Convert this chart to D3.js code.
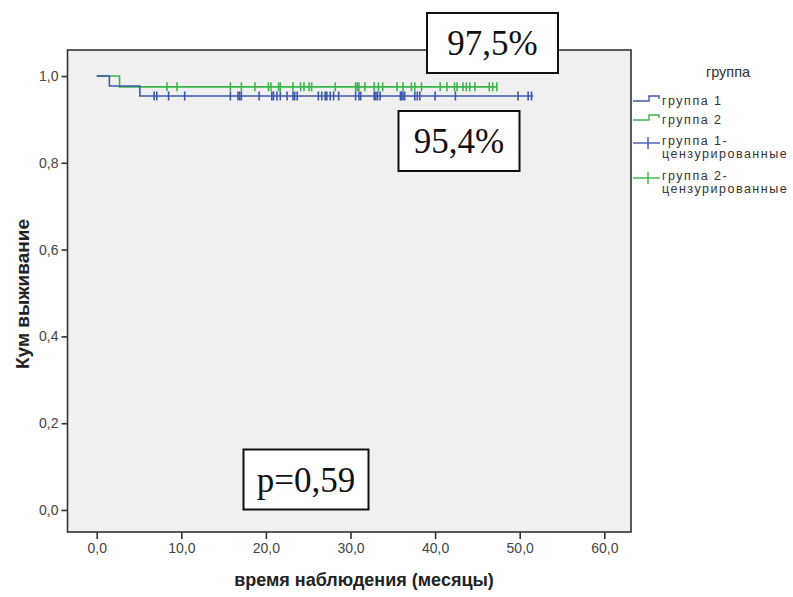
<!DOCTYPE html>
<html>
<head>
<meta charset="utf-8">
<script src="https://cdn.jsdelivr.net/npm/d3@7"></script>
<style>
  body { margin: 0; background: #fff; }
  svg { display: block; font-family: Arial, "Liberation Sans", sans-serif; }
</style>
</head>
<body>
<div id="chart"></div>
<script>
const width = 793, height = 597;

// survival steps (time in months, cumulative survival)
const group1Steps = [[0, 1.0], [1.5, 0.977], [5.1, 0.954], [51.6, 0.954]];
const group2Steps = [[0, 1.0], [2.7, 0.975], [47.3, 0.975]];

// censored observations (months)
const group1Censored = [6.8, 7.1, 8.5, 10.4, 15.8, 16.7, 16.9, 17.1, 19.2, 20.7, 20.9, 21.3, 21.7,
  22.5, 23.2, 23.4, 23.7, 26.2, 26.6, 27.0, 27.2, 27.6, 28.0, 28.6, 30.6, 31.0, 31.2, 32.8, 33.0,
  33.2, 33.5, 35.9, 36.0, 36.2, 36.4, 37.6, 37.9, 38.2, 40.0, 42.4, 49.8, 51.0, 51.4];
const group2Censored = [8.3, 9.5, 15.8, 17.1, 18.7, 20.3, 20.6, 21.5, 21.7, 23.2, 24.1, 24.5, 25.1,
  25.4, 28.2, 30.6, 30.8, 31.0, 31.7, 32.8, 33.3, 33.8, 35.5, 36.2, 37.2, 37.6, 38.4, 40.6, 41.4,
  42.3, 42.6, 43.3, 43.7, 44.1, 44.7, 46.4, 46.8, 47.3];

const xTicks = [0, 10, 20, 30, 40, 50, 60];
const yTicks = [0, 0.2, 0.4, 0.6, 0.8, 1.0];

const groupNames = ['группа 1', 'группа 2'];
const groupColors = ['#3e58ac', '#3cb54a'];

const frame = { left: 67.5, top: 50, right: 631, bottom: 532 };

let x = d3.scaleLinear().domain([0, 60]).range([96.7, 604.3]);
let y = d3.scaleLinear().domain([0, 1]).range([510, 76]);

const fmt = function(d) { return d3.format('.1f')(d).replace('.', ','); };

let svg = d3.select('#chart')
    .append('svg')
    .attr('width', width)
    .attr('height', height);

// plot area
svg.append('rect')
    .attr('x', frame.left)
    .attr('y', frame.top)
    .attr('width', frame.right - frame.left)
    .attr('height', frame.bottom - frame.top)
    .attr('fill', '#f0f0f0')
    .attr('stroke', '#333')
    .attr('stroke-width', 1.6);

// axes
let yAxis = svg.append('g')
    .attr('transform', 'translate(' + frame.left + ',0)')
    .call(d3.axisLeft(y).tickValues(yTicks).tickFormat(fmt).tickSize(6).tickPadding(3));

let xAxis = svg.append('g')
    .attr('transform', 'translate(0,' + frame.bottom + ')')
    .call(d3.axisBottom(x).tickValues(xTicks).tickFormat(fmt).tickSize(7).tickPadding(4));

[xAxis, yAxis].forEach(function(a) {
    a.select('.domain').remove();
    a.selectAll('line').attr('stroke', '#333').attr('stroke-width', 1.6);
    a.selectAll('text')
        .attr('fill', '#444')
        .style('font-size', '14px')
        .style('font-family', 'Arial, "Liberation Sans", sans-serif');
});

svg.append('text')
    .attr('x', 364)
    .attr('y', 586)
    .attr('text-anchor', 'middle')
    .style('font-size', '18px')
    .style('font-weight', 'bold')
    .attr('fill', '#222')
    .text('время наблюдения (месяцы)');

svg.append('text')
    .attr('transform', 'translate(29,294) rotate(-90)')
    .attr('text-anchor', 'middle')
    .style('font-size', '19px')
    .style('font-weight', 'bold')
    .attr('fill', '#222')
    .text('Кум выживание');

// survival curves
let line = d3.line()
    .x(function(d) { return x(d[0]); })
    .y(function(d) { return y(d[1]); })
    .curve(d3.curveStepAfter);

// survival value at a time point for censored marks
function survAt(steps, t) {
    let s = steps[0][1];
    steps.forEach(function(p) { if (p[0] <= t) { s = p[1]; } });
    return s;
}

const series = [
    { steps: group1Steps, cens: group1Censored, color: groupColors[0] },
    { steps: group2Steps, cens: group2Censored, color: groupColors[1] }
];

// draw green first so blue start sits on top like the original
[series[1], series[0]].forEach(function(s) {
    svg.append('path')
        .attr('d', line(s.steps))
        .attr('fill', 'none')
        .attr('stroke', s.color)
        .attr('stroke-width', 1.6);

    svg.append('g')
        .selectAll('line')
        .data(s.cens)
        .enter()
        .append('line')
        .attr('x1', function(d) { return x(d); })
        .attr('x2', function(d) { return x(d); })
        .attr('y1', function(d) { return y(survAt(s.steps, d)) - 4.5; })
        .attr('y2', function(d) { return y(survAt(s.steps, d)) + 4.5; })
        .attr('stroke', s.color)
        .attr('stroke-width', 1.6);
});

// legend
let legend = svg.append('g').attr('class', 'legend');

legend.append('text')
    .attr('x', 728)
    .attr('y', 77)
    .attr('text-anchor', 'middle')
    .style('font-size', '14.5px')
    .attr('fill', '#333')
    .text('группа');

const legendRows = [
    { y: 101, color: groupColors[0], kind: 'step', lines: [groupNames[0]] },
    { y: 120, color: groupColors[1], kind: 'step', lines: [groupNames[1]] },
    { y: 143, color: groupColors[0], kind: 'cens', lines: [groupNames[0] + '-', 'цензурированные'] },
    { y: 178, color: groupColors[1], kind: 'cens', lines: [groupNames[1] + '-', 'цензурированные'] }
];

const legendText = function(sel) {
    sel.style('font-size', '12.5px')
        .style('letter-spacing', '1.5px')
        .attr('fill', '#333');
};

legendRows.forEach(function(r) {
    if (r.kind === 'step') {
        legend.append('path')
            .attr('d', 'M633,' + r.y + 'H649V' + (r.y - 5) + 'H659V' + (r.y - 2))
            .attr('fill', 'none')
            .attr('stroke', r.color)
            .attr('stroke-width', 1.4);
        legend.append('text')
            .attr('x', 662)
            .attr('y', r.y + 4)
            .call(legendText)
            .text(r.lines[0]);
    } else {
        legend.append('line')
            .attr('x1', 633).attr('x2', 660)
            .attr('y1', r.y).attr('y2', r.y)
            .attr('stroke', r.color).attr('stroke-width', 1.4);
        legend.append('line')
            .attr('x1', 648).attr('x2', 648)
            .attr('y1', r.y - 6).attr('y2', r.y + 6)
            .attr('stroke', r.color).attr('stroke-width', 1.4);
        r.lines.forEach(function(t, i) {
            legend.append('text')
                .attr('x', 662)
                .attr('y', r.y + 2 + i * 13)
                .call(legendText)
                .text(t);
        });
    }
});

// annotation boxes
const notes = [
    { text: '97,5%', x: 427, y: 13, w: 131, h: 60 },
    { text: '95,4%', x: 398.5, y: 111, w: 121, h: 60 },
    { text: 'p=0,59', x: 243.5, y: 449.5, w: 125, h: 60 }
];

notes.forEach(function(n) {
    svg.append('rect')
        .attr('x', n.x).attr('y', n.y)
        .attr('width', n.w).attr('height', n.h)
        .attr('fill', '#fff')
        .attr('stroke', '#111')
        .attr('stroke-width', 2);
    svg.append('text')
        .attr('x', n.x + n.w / 2)
        .attr('y', n.y + n.h / 2 + 12)
        .attr('text-anchor', 'middle')
        .style('font-family', '"Liberation Serif", "Times New Roman", serif')
        .style('font-size', '35px')
        .attr('fill', '#111')
        .text(n.text);
});
</script>
</body>
</html>
